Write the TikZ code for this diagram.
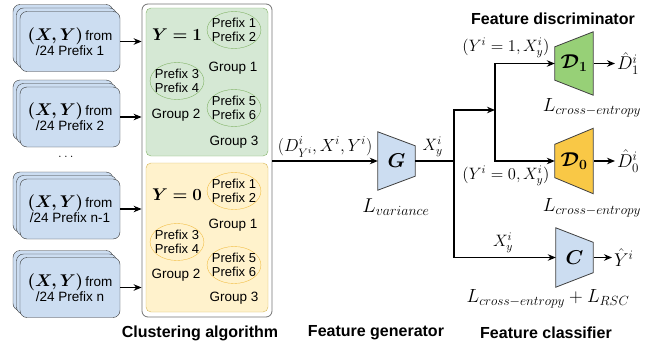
\documentclass[tikz,border=0pt]{standalone}
\usepackage{fix-cm}
\usepackage{amsmath,amssymb,bm}
\usepackage{fontspec}
\setmainfont{Liberation Sans}
\usetikzlibrary{arrows.meta,positioning,shapes.geometric,shadows}

\definecolor{stackblue}{HTML}{CCDDF1}
\definecolor{grpgreen}{HTML}{D5E8D4}
\definecolor{grpgreenline}{HTML}{82B366}
\definecolor{grpyellow}{HTML}{FFF2CC}
\definecolor{grpyellowline}{HTML}{F2BE45}
\definecolor{grpyellowbox}{HTML}{D6B656}
\definecolor{discgreen}{HTML}{97D077}
\definecolor{discyellow}{HTML}{F9C846}

\tikzset{
    stack/.style={draw=black!80, fill=stackblue, rounded corners=7pt, minimum width=100pt,
        minimum height=60pt, align=center, inner sep=1pt,
        double copy shadow={shadow xshift=-3.5pt, shadow yshift=3.5pt}},
    prefgrp/.style={ellipse, minimum width=53pt, minimum height=37pt, inner sep=-3pt,
        align=center, font=\fontsize{13}{14}\selectfont},
    netbox/.style={inner sep=0pt, font=\fontsize{20}{22}\selectfont},
    boldlab/.style={font=\fontsize{16}{18}\selectfont\bfseries},
    mlab/.style={font=\fontsize{16.5}{18}\selectfont},
    losslab/.style={font=\fontsize{19}{21}\selectfont},
    conn/.style={line width=1.2pt}
}

\begin{document}
\begin{tikzpicture}[x=1pt, y=-1pt, >={Stealth[length=8pt,width=6.5pt]},
    font=\fontsize{13.5}{15}\selectfont]

    \useasboundingbox (0,0) rectangle (654,343);

    % Clustering container with the two label groups
    \node[draw=black!55, thick, rounded corners=6pt, minimum width=130pt, minimum height=313pt] (clu) at (207,160.5) {};
    \node[draw=grpgreenline, fill=grpgreen, rounded corners=5pt, minimum width=122pt, minimum height=148pt] (grn) at (207,82) {};
    \node[draw=grpyellowbox, fill=grpyellow, rounded corners=5pt, minimum width=122pt, minimum height=149pt] (ylw) at (207,237.5) {};

    % Y = 1
    \node[netbox, font=\fontsize{17}{18}\selectfont] (yone) at (177,35) {$\bm{Y=1}$};
    \node[prefgrp, draw=grpgreenline] (g1a) at (234,30) {Prefix 1\\Prefix 2};
    \node (g1alab) at (233,68) {Group 1};
    \node[prefgrp, draw=grpgreenline] (g1b) at (177,81) {Prefix 3\\Prefix 4};
    \node (g1blab) at (176,115) {Group 2};
    \node[prefgrp, draw=grpgreenline] (g1c) at (234,108) {Prefix 5\\Prefix 6};
    \node (g1clab) at (234,142) {Group 3};

    % Y = 0
    \node[netbox, font=\fontsize{17}{18}\selectfont] (yzero) at (177,195) {$\bm{Y=0}$};
    \node[prefgrp, draw=grpyellowline] (g0a) at (234,191) {Prefix 1\\Prefix 2};
    \node (g0alab) at (233,225) {Group 1};
    \node[prefgrp, draw=grpyellowline] (g0b) at (177,242) {Prefix 3\\Prefix 4};
    \node (g0blab) at (176,275) {Group 2};
    \node[prefgrp, draw=grpyellowline] (g0c) at (234,265) {Prefix 5\\Prefix 6};
    \node (g0clab) at (234,298) {Group 3};

    % Prefix stacks
    \foreach \y/\n/\lab in {41.5/1/1, 117/2/2, 209/3/n-1, 287.5/4/n} {
        \node[stack] (p\n) at (70,\y) {{\fontsize{17}{18}\selectfont$\bm{(X,Y)}$}\,from\\/24 Prefix \lab};
        \draw[conn, ->] (p\n.east) -- (p\n.east -| clu.west);
    }
    \node (dots) at (67,157) {$\dots$};

    % --- Feature generator ---
    \node[netbox, minimum width=37pt, minimum height=58pt] (G) at (396.5,161) {};
    \filldraw[draw=black!75, fill=stackblue, thick] (G.north west) -- ([yshift=-14pt]G.north east)
        -- ([yshift=14pt]G.south east) -- (G.south west) -- cycle;
    \node[netbox] (Gtxt) at (G) {$\bm{G}$};
    \node[losslab, font=\fontsize{20}{22}\selectfont] (Gloss) at (396,207) {$L_{variance}$};
    \draw[conn, ->] (clu.east |- G.west) -- (G.west) node[pos=0.5, above, mlab, font=\fontsize{17.5}{19}\selectfont] (din) {$(D^i_{Y^i},X^i,Y^i)$};

    % --- Feature discriminators ---
    \node[netbox, minimum width=38pt, minimum height=63pt] (D1) at (574,63.5) {};
    \filldraw[draw=black!75, fill=discgreen, thick] ([yshift=-15pt]D1.north west) -- (D1.north east)
        -- (D1.south east) -- ([yshift=15pt]D1.south west) -- cycle;
    \node[netbox] (D1txt) at (D1) {$\bm{\mathcal{D}_1}$};
    \node[netbox, minimum width=38pt, minimum height=65pt] (D0) at (574,161) {};
    \filldraw[draw=black!75, fill=discyellow, thick] ([yshift=-16pt]D0.north west) -- (D0.north east)
        -- (D0.south east) -- ([yshift=16pt]D0.south west) -- cycle;
    \node[netbox] (D0txt) at (D0) {$\bm{\mathcal{D}_0}$};
    \node[boldlab] (dtitle) at (553,19) {Feature discriminator};
    \node[losslab] (D1loss) at (592,108) {$L_{cross-entropy}$};
    \node[losslab] (D0loss) at (592,208) {$L_{cross-entropy}$};
    \node[netbox, anchor=west, inner sep=2pt, font=\fontsize{18.5}{20}\selectfont] (D1hat) at (615,63.5) {$\hat{D}_1^i$};
    \node[netbox, anchor=west, inner sep=2pt, font=\fontsize{18.5}{20}\selectfont] (D0hat) at (615,161) {$\hat{D}_0^i$};

    % --- Feature classifier ---
    \node[netbox, minimum width=37pt, minimum height=59pt] (C) at (574.5,257.5) {};
    \filldraw[draw=black!75, fill=stackblue, thick] (C.north west) -- ([yshift=-14.5pt]C.north east)
        -- ([yshift=14.5pt]C.south east) -- (C.south west) -- cycle;
    \node[netbox] (Ctxt) at (C) {$\bm{C}$};
    \node[losslab] (Closs) at (548,299) {$L_{cross-entropy}+L_{RSC}$};
    \node[netbox, anchor=west, inner sep=2pt, font=\fontsize{18.5}{20}\selectfont] (Chat) at (612,257.5) {$\hat{Y}^i$};

    % Routing of X_y^i
    \coordinate (split) at (454,161);
    \coordinate (fork) at (495,110);
    \draw[conn] (G.east) -- (split) node[pos=0.45, above, mlab] (xg) {$X_y^i$};
    \draw[conn, ->] (split) |- (fork);
    \draw[conn, ->] (fork) |- (D1.west);
    \draw[conn, ->] (fork) |- (D0.west);
    \draw[conn, ->] (split) |- (C.west);
    \node[mlab] (x1lab) at (506,48) {$(Y^i=1,X_y^i)$};
    \node[mlab] (x0lab) at (506,176) {$(Y^i=0,X_y^i)$};
    \node[mlab] (xclab) at (503,243) {$X_y^i$};
    \draw[conn, ->] ([xshift=1pt]D1.east) -- (D1hat.west);
    \draw[conn, ->] ([xshift=1pt]D0.east) -- (D0hat.west);
    \draw[conn, ->] ([xshift=1pt]C.east) -- (Chat.west);

    % Bottom titles
    \node[boldlab] (ctitle) at (200,333) {Clustering algorithm};
    \node[boldlab] (gtitle) at (376,333) {Feature generator};
    \node[boldlab] (ftitle) at (546,333) {Feature classifier};

\end{tikzpicture}
\end{document}
